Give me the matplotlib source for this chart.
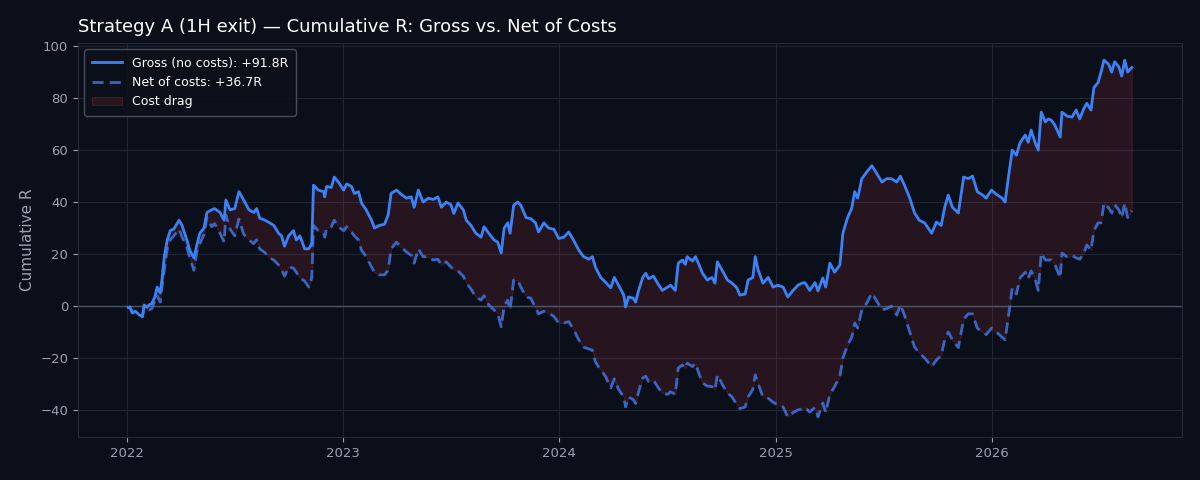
import numpy as np
import pandas as pd
import matplotlib
matplotlib.use("Agg")
import matplotlib.pyplot as plt
import matplotlib.dates as mdates

start_date = "2022-01-03"
days_since_start = [
    0, 3, 7, 12, 19, 24, 27, 32, 35, 40, 45, 49, 54, 57, 61, 66, 71, 77, 86, 91,
    99, 104, 111, 116, 121, 128, 133, 141, 146, 155, 162, 165, 172, 180, 187, 195, 204, 212, 217, 222,
    231, 239, 246, 254, 259, 264, 271, 279, 284, 290, 298, 305, 310, 313, 321, 330, 332, 335, 343, 348,
    355, 364, 369, 377, 382, 389, 394, 402, 411, 416, 424, 433, 439, 444, 453, 461, 470, 478, 483, 490,
    498, 507, 515, 523, 529, 537, 545, 550, 557, 566, 571, 579, 587, 596, 601, 609, 618, 624, 630, 635,
    641, 645, 651, 658, 663, 672, 680, 688, 693, 702, 710, 719, 727, 736, 744, 752, 761, 769, 778, 784,
    789, 798, 806, 815, 821, 828, 837, 840, 845, 853, 857, 862, 869, 874, 879, 887, 894, 902, 911, 916,
    924, 929, 936, 941, 944, 953, 958, 963, 970, 978, 986, 991, 995, 1003, 1012, 1020, 1028, 1033, 1042, 1047,
    1055, 1059, 1064, 1072, 1081, 1089, 1097, 1106, 1114, 1123, 1131, 1138, 1143, 1151, 1160, 1165, 1173, 1178, 1185, 1193,
    1202, 1207, 1215, 1222, 1227, 1232, 1239, 1247, 1256, 1264, 1273, 1281, 1289, 1298, 1304, 1311, 1320, 1328, 1336, 1345,
    1357, 1365, 1373, 1379, 1385, 1392, 1402, 1411, 1419, 1426, 1434, 1443, 1449, 1458, 1466, 1476, 1481, 1486, 1493, 1500,
    1506, 1515, 1520, 1525, 1532, 1537, 1542, 1549, 1554, 1559, 1565, 1574, 1577, 1586, 1594, 1601, 1607, 1614, 1619, 1626,
    1631, 1638, 1643, 1648, 1656, 1661, 1666, 1673, 1678, 1683, 1688, 1695,
]

gross_r = [
    -0.5, -0.4, -2.7, -2.0, -3.5, -4.0, 0.4, -0.5, 0.4, 1.0, 3.5, 7.3, 5.0, 10.0, 19.0, 25.4, 29.0, 29.6, 33.0, 31.0,
    25.4, 21.5, 18.5, 23.5, 28.0, 30.0, 36.0, 37.0, 37.5, 36.0, 33.0, 40.8, 37.0, 37.5, 44.0, 40.8, 37.0, 36.0, 37.5, 33.8,
    33.0, 32.0, 31.0, 28.0, 27.0, 23.0, 27.0, 29.0, 25.4, 27.0, 22.0, 22.0, 24.0, 46.5, 44.6, 44.0, 42.0, 46.0, 45.6, 49.6,
    47.7, 44.6, 47.0, 46.0, 43.3, 44.0, 39.6, 37.0, 33.0, 30.0, 31.0, 31.5, 35.0, 43.3, 44.6, 43.0, 41.5, 42.0, 38.0, 44.6,
    40.0, 41.5, 41.0, 42.0, 38.0, 40.0, 39.0, 35.6, 39.6, 37.0, 33.0, 31.0, 28.0, 26.5, 30.5, 28.0, 25.4, 24.6, 20.4, 30.0,
    32.0, 28.0, 38.8, 40.0, 38.8, 34.0, 33.6, 32.0, 28.5, 32.0, 30.0, 29.5, 26.0, 26.5, 28.5, 25.4, 21.5, 19.0, 18.0, 19.0,
    15.0, 11.0, 9.2, 7.0, 11.0, 8.0, 4.2, -0.4, 3.5, 3.0, 1.5, 6.0, 11.0, 12.6, 10.5, 11.5, 8.8, 6.0, 7.3, 8.0,
    6.0, 16.5, 17.7, 16.0, 19.0, 17.3, 19.0, 16.5, 12.6, 10.0, 11.0, 8.8, 17.0, 13.8, 10.0, 8.8, 7.0, 4.2, 4.6, 10.0,
    11.0, 19.0, 13.8, 8.8, 11.0, 7.3, 8.0, 7.3, 3.5, 6.0, 8.0, 8.8, 9.0, 6.0, 9.0, 5.8, 10.8, 7.3, 16.5, 13.0,
    15.8, 28.0, 34.0, 37.7, 44.0, 41.5, 49.0, 51.5, 54.0, 51.0, 47.7, 49.0, 49.0, 47.7, 50.0, 46.5, 41.5, 35.8, 33.0, 32.0,
    28.0, 32.3, 31.0, 38.0, 42.7, 38.0, 35.8, 49.6, 49.0, 50.0, 44.0, 42.7, 41.5, 44.6, 43.0, 41.5, 40.0, 48.5, 60.0, 58.0,
    62.7, 65.8, 63.0, 67.7, 62.7, 60.0, 74.6, 70.8, 72.0, 71.5, 69.6, 65.0, 74.6, 73.0, 72.7, 75.4, 72.0, 76.0, 78.0, 75.4,
    84.0, 86.0, 90.0, 94.6, 93.0, 90.0, 94.0, 92.0, 88.5, 94.6, 90.0, 91.8,
]

net_r = [
    -0.5, -0.6, -2.5, -2.2, -3.0, -4.2, -0.5, -1.2, -1.5, -1.0, 2.0, 4.0, 1.5, 7.3, 14.0, 22.0, 25.5, 27.0, 29.6, 26.5,
    22.7, 18.5, 13.8, 21.0, 24.0, 27.5, 34.0, 30.5, 31.7, 28.0, 24.6, 35.0, 29.6, 27.0, 33.5, 27.7, 25.4, 24.0, 25.5, 22.0,
    20.5, 18.5, 17.7, 15.8, 14.0, 11.5, 15.0, 14.6, 13.0, 10.8, 9.6, 7.3, 10.8, 31.0, 29.0, 28.0, 26.5, 30.0, 30.5, 33.0,
    30.5, 29.0, 30.5, 28.5, 27.0, 25.4, 21.5, 19.0, 15.0, 13.0, 12.0, 12.0, 13.8, 22.0, 24.6, 22.7, 20.8, 19.5, 16.5, 22.0,
    19.0, 19.0, 17.7, 18.0, 15.8, 17.0, 15.0, 14.0, 13.5, 11.5, 9.0, 6.5, 3.5, 2.3, 4.0, 0.4, -1.5, -2.7, -8.0, 0.0,
    2.3, -1.5, 10.0, 10.0, 7.3, 3.5, 3.0, -0.8, -3.0, -2.0, -2.7, -4.0, -6.5, -6.5, -6.0, -9.0, -13.0, -15.8, -16.5, -17.0,
    -21.5, -24.6, -27.0, -31.5, -28.0, -32.0, -35.0, -38.8, -35.0, -36.0, -37.5, -33.0, -27.7, -27.0, -29.0, -28.5, -31.0, -33.5, -34.0, -33.0,
    -34.0, -23.8, -22.7, -24.0, -22.0, -23.3, -22.0, -25.4, -29.6, -30.8, -31.0, -32.3, -26.5, -30.0, -33.5, -35.0, -38.0, -39.5, -38.8, -35.0,
    -32.0, -26.5, -30.0, -35.0, -35.5, -37.0, -38.0, -38.8, -42.7, -41.0, -40.0, -39.6, -39.0, -40.8, -39.0, -42.7, -37.3, -41.0, -34.0, -31.0,
    -27.0, -20.0, -15.0, -12.0, -6.5, -8.5, -1.5, 1.0, 5.0, 2.0, -1.5, -1.0, 0.0, -3.5, 0.5, -3.5, -10.0, -15.8, -18.0, -20.0,
    -23.3, -20.8, -19.0, -13.0, -10.0, -13.0, -16.0, -5.0, -3.0, -3.0, -8.5, -10.0, -11.0, -8.5, -10.0, -12.0, -13.0, -5.0, 7.0, 4.6,
    10.8, 13.0, 10.5, 13.5, 10.0, 6.0, 20.4, 17.7, 17.7, 17.7, 16.0, 10.8, 20.4, 18.8, 19.5, 18.5, 18.0, 20.4, 23.5, 21.5,
    29.0, 32.0, 32.0, 39.6, 37.7, 35.8, 39.0, 37.0, 34.0, 39.6, 34.0, 36.7,
]

title_text = "Strategy A (1H exit) \u2014 Cumulative R: Gross vs. Net of Costs"
gross_label = "Gross (no costs): +91.8R"
net_label = "Net of costs: +36.7R"
drag_label = "Cost drag"
y_ticks = [-40, -20, 0, 20, 40, 60, 80, 100]

dates = pd.to_datetime(start_date) + pd.to_timedelta(days_since_start, unit="D")
gross = np.array(gross_r)
net = np.array(net_r)

BG = "#0b0f19"
GRID = "#1e2533"
TXT = "#9aa3b2"

fig = plt.figure(figsize=(12, 4.8), dpi=100, facecolor=BG)
ax = fig.add_axes([0.065, 0.0896, 0.92, 0.8208])
ax.set_facecolor(BG)

h_fill = ax.fill_between(dates, net, gross, facecolor=(0.94, 0.27, 0.27, 0.12),
                         edgecolor=(0.94, 0.27, 0.27, 0.18), linewidth=0.8,
                         label=drag_label, zorder=1)
ax.axhline(0, color="#4b5563", linewidth=1.0, zorder=2)
h_g, = ax.plot(dates, gross, color="#3b82f6", linewidth=2.0, label=gross_label, zorder=4)
h_n, = ax.plot(dates, net, color="#3b6fd6", linewidth=2.0, linestyle=(0, (4, 2.2)),
               alpha=0.9, label=net_label, zorder=3)

ax.grid(True, color=GRID, linewidth=0.8, zorder=0)
ax.set_axisbelow(True)
for s in ax.spines.values():
    s.set_color("#232a38")
ax.tick_params(colors=TXT, labelsize=9.5, length=3.5)
ax.set_ylabel("Cumulative R", color=TXT, fontsize=11)
ax.set_yticks(y_ticks)
ax.set_ylim(-50.4, 101.2)

ax.xaxis.set_major_locator(mdates.YearLocator())
ax.xaxis.set_major_formatter(mdates.DateFormatter("%Y"))

ax.set_title(title_text, loc="left", color="white", fontsize=13, pad=8)

leg = ax.legend(handles=[h_g, h_n, h_fill], loc="upper left", fontsize=9,
                facecolor="#0d111b", edgecolor="#4b5563", labelcolor="white",
                framealpha=0.9, borderpad=0.6, handlelength=2.4)
leg.get_frame().set_linewidth(1.0)

fig.savefig("out.png", dpi=100, facecolor=BG)
